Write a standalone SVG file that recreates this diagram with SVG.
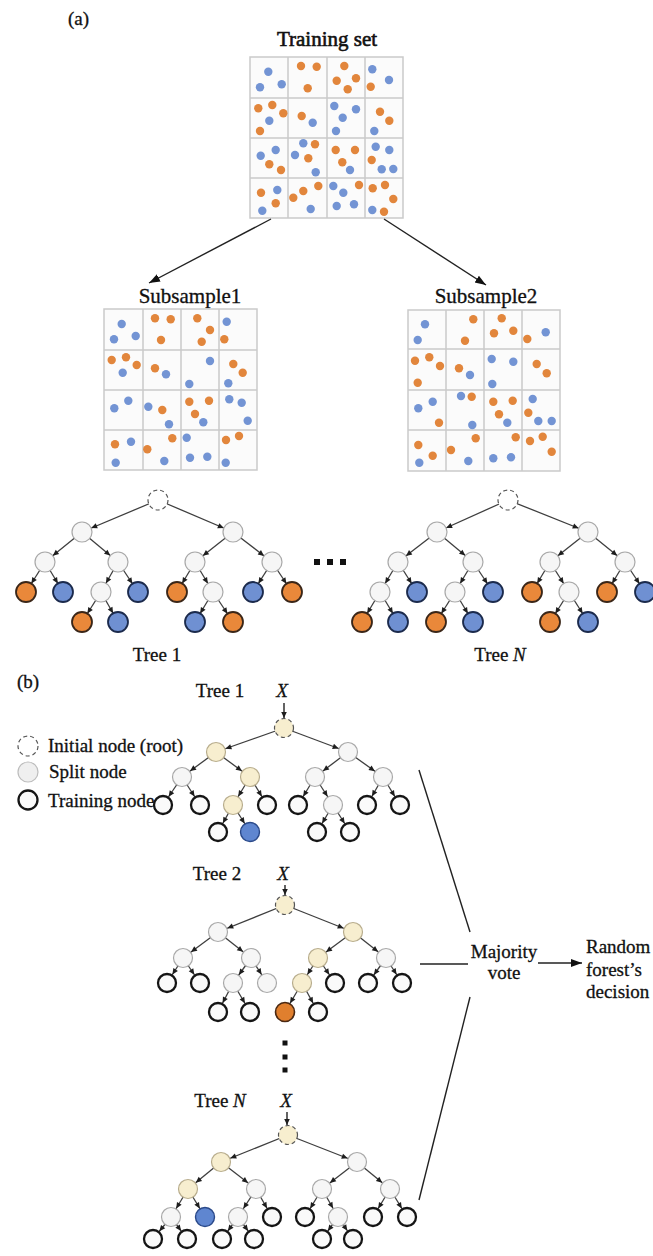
<svg xmlns="http://www.w3.org/2000/svg" width="653" height="1256" viewBox="0 0 653 1256">
<defs>
<style>
.t{font-family:"Liberation Serif","Times New Roman",serif;fill:#111;stroke:#111;stroke-width:0.3}
.bg{fill:#fbfbfb}
.gl{stroke:#cacaca;stroke-width:1.5;fill:none}
.b{fill:#7394d4}
.o{fill:#e2863c}
.e{stroke:#3e3e3e;stroke-width:1.3;fill:none;marker-end:url(#ah)}
.sp{fill:#f6f6f6;stroke:#a9a9a9;stroke-width:1.2}
.lo{fill:#e9883a;stroke:#3a2618;stroke-width:1.8}
.lb{fill:#6f90d2;stroke:#1b2a4c;stroke-width:1.8}
.rt{fill:#fff;stroke:#555;stroke-width:1.2;stroke-dasharray:4 3}
.ry{fill:#f7eecf;stroke:#555;stroke-width:1.2;stroke-dasharray:4 3}
.tr{fill:#fafafa;stroke:#151515;stroke-width:2.3}
.yl{fill:#f7eecf;stroke:#b8ad8d;stroke-width:1.2}
.bo{fill:#e07f2e;stroke:#4a2812;stroke-width:1.6}
.bb{fill:#5f86d0;stroke:#2b4a8a;stroke-width:1.4}
.ln{stroke:#222;stroke-width:1.4;fill:none}
</style>
<marker id="ah" viewBox="0 0 20 10" refX="16.5" refY="5" markerWidth="20" markerHeight="10" markerUnits="userSpaceOnUse" orient="auto">
<path d="M0.5,2.3 L6.5,5 L0.5,7.7 z" fill="#1e1e1e"/>
</marker>
<marker id="as" viewBox="0 0 8 8" refX="7" refY="4" markerWidth="8" markerHeight="8" markerUnits="userSpaceOnUse" orient="auto">
<path d="M1,1.2 L7,4 L1,6.8 z" fill="#1e1e1e"/>
</marker>
<marker id="ab" viewBox="0 0 12 10" refX="11" refY="5" markerWidth="12" markerHeight="10" markerUnits="userSpaceOnUse" orient="auto">
<path d="M0,1 L11,5 L0,9 z" fill="#111"/>
</marker>
</defs>
<rect width="653" height="1256" fill="#fff"/>

<!-- (a) bootstrap sampling -->
<text class="t" x="68" y="25" font-size="19">(a)</text>
<text class="t" x="327" y="46" font-size="21" text-anchor="middle" style="stroke-width:0.6">Training set</text>

<g id="training-set">
<rect class="bg" x="250" y="57" width="153" height="161"/>
<path class="gl" d="M250,57H403V218H250Z M288,57V218 M327,57V218 M365,57V218 M250,98H403 M250,138H403 M250,178H403"/>
<g class="b">
<circle cx="268.3" cy="71.7" r="4.2"/><circle cx="260" cy="87.3" r="4.2"/><circle cx="281.7" cy="84.3" r="4.2"/>
<circle cx="372.3" cy="69.3" r="4.2"/><circle cx="389" cy="80" r="4.2"/>
<circle cx="269.3" cy="120.7" r="4.2"/><circle cx="312.7" cy="122.7" r="4.2"/>
<circle cx="334.3" cy="106" r="4.2"/><circle cx="356" cy="109.3" r="4.2"/><circle cx="342.7" cy="117.7" r="4.2"/><circle cx="336" cy="131" r="4.2"/>
<circle cx="374.3" cy="131" r="4.2"/>
<circle cx="260.7" cy="155.7" r="4.2"/><circle cx="275.7" cy="150" r="4.2"/>
<circle cx="303.3" cy="143.3" r="4.2"/><circle cx="295" cy="155" r="4.2"/><circle cx="315.7" cy="172.3" r="4.2"/>
<circle cx="350" cy="170" r="4.2"/>
<circle cx="375.7" cy="146.7" r="4.2"/><circle cx="389.3" cy="150" r="4.2"/><circle cx="381.7" cy="169.3" r="4.2"/><circle cx="393.3" cy="169" r="4.2"/>
<circle cx="277.3" cy="190" r="4.2"/><circle cx="262.3" cy="210.7" r="4.2"/>
<circle cx="310.7" cy="209" r="4.2"/>
<circle cx="333.3" cy="186" r="4.2"/><circle cx="343.3" cy="192.7" r="4.2"/><circle cx="336.7" cy="206" r="4.2"/><circle cx="354" cy="204.3" r="4.2"/>
<circle cx="372.3" cy="210" r="4.2"/>
</g>
<g class="o">
<circle cx="301" cy="66" r="4.2"/><circle cx="316.7" cy="66.7" r="4.2"/><circle cx="307.7" cy="88.3" r="4.2"/>
<circle cx="344.3" cy="66" r="4.2"/><circle cx="336.7" cy="80.7" r="4.2"/><circle cx="356" cy="78.3" r="4.2"/><circle cx="347.7" cy="89.3" r="4.2"/>
<circle cx="370.7" cy="86.7" r="4.2"/>
<circle cx="258.3" cy="108.3" r="4.2"/><circle cx="272.3" cy="105" r="4.2"/><circle cx="283.3" cy="113.3" r="4.2"/><circle cx="260" cy="131" r="4.2"/>
<circle cx="301.7" cy="116" r="4.2"/>
<circle cx="380" cy="111.7" r="4.2"/><circle cx="389.3" cy="120.7" r="4.2"/>
<circle cx="269.3" cy="164.3" r="4.2"/><circle cx="281" cy="170" r="4.2"/>
<circle cx="315" cy="144.3" r="4.2"/><circle cx="308.3" cy="158.3" r="4.2"/>
<circle cx="335.7" cy="150" r="4.2"/><circle cx="355" cy="150" r="4.2"/><circle cx="342.3" cy="162.3" r="4.2"/>
<circle cx="371.7" cy="160" r="4.2"/>
<circle cx="261" cy="192.7" r="4.2"/><circle cx="275.7" cy="203.3" r="4.2"/>
<circle cx="293.3" cy="197.7" r="4.2"/><circle cx="303.3" cy="191" r="4.2"/><circle cx="318.3" cy="186" r="4.2"/>
<circle cx="359" cy="185" r="4.2"/>
<circle cx="372.7" cy="188.3" r="4.2"/><circle cx="385" cy="185" r="4.2"/><circle cx="393.3" cy="199" r="4.2"/><circle cx="384" cy="211.7" r="4.2"/>
</g>
</g>

<g id="sampling-arrows">
<line class="ln" x1="271" y1="219" x2="149" y2="283" marker-end="url(#ab)"/>
<line class="ln" x1="384" y1="219" x2="486" y2="285" marker-end="url(#ab)"/>
</g>

<text class="t" x="190" y="303" font-size="21" text-anchor="middle">Subsample1</text>
<g id="subsample1">
<rect class="bg" x="104" y="309" width="153" height="161"/>
<path class="gl" d="M104,309H257V470H104Z M143,309V470 M181,309V470 M219,309V470 M104,350H257 M104,390H257 M104,430H257"/>
<g class="b">
<circle cx="121.7" cy="324" r="4.2"/><circle cx="114" cy="339.3" r="4.2"/><circle cx="135.7" cy="336" r="4.2"/>
<circle cx="226.7" cy="321.7" r="4.2"/>
<circle cx="122.7" cy="372.7" r="4.2"/><circle cx="166" cy="374.3" r="4.2"/>
<circle cx="210" cy="361" r="4.2"/><circle cx="189.3" cy="384" r="4.2"/>
<circle cx="228.3" cy="383.3" r="4.2"/>
<circle cx="114.3" cy="408.3" r="4.2"/><circle cx="128.3" cy="400.7" r="4.2"/>
<circle cx="148.3" cy="406.7" r="4.2"/><circle cx="169" cy="424.3" r="4.2"/>
<circle cx="203.3" cy="422.3" r="4.2"/>
<circle cx="229.3" cy="399.3" r="4.2"/><circle cx="241.7" cy="402.7" r="4.2"/><circle cx="247.7" cy="420.7" r="4.2"/>
<circle cx="131" cy="441.7" r="4.2"/><circle cx="115.7" cy="462.7" r="4.2"/>
<circle cx="164.3" cy="461" r="4.2"/>
<circle cx="186.7" cy="437.7" r="4.2"/><circle cx="190" cy="457.7" r="4.2"/><circle cx="207.3" cy="456.7" r="4.2"/>
<circle cx="225.7" cy="462.7" r="4.2"/>
</g>
<g class="o">
<circle cx="155" cy="318.3" r="4.2"/><circle cx="170.7" cy="319.3" r="4.2"/><circle cx="161" cy="340" r="4.2"/>
<circle cx="197.3" cy="318.3" r="4.2"/><circle cx="210" cy="330" r="4.2"/><circle cx="201.7" cy="341.7" r="4.2"/>
<circle cx="224.3" cy="339.3" r="4.2"/>
<circle cx="111.7" cy="360" r="4.2"/><circle cx="126" cy="357.3" r="4.2"/><circle cx="136.7" cy="365" r="4.2"/>
<circle cx="155" cy="368.3" r="4.2"/>
<circle cx="233.3" cy="364" r="4.2"/><circle cx="242.7" cy="372.7" r="4.2"/>
<circle cx="162.3" cy="410" r="4.2"/>
<circle cx="189.3" cy="401.7" r="4.2"/><circle cx="209" cy="400.7" r="4.2"/><circle cx="195" cy="414" r="4.2"/>
<circle cx="115" cy="444.3" r="4.2"/>
<circle cx="172.3" cy="438.3" r="4.2"/><circle cx="147.3" cy="449.3" r="4.2"/>
<circle cx="226" cy="440" r="4.2"/><circle cx="239" cy="436" r="4.2"/>
</g>
</g>

<text class="t" x="486" y="303" font-size="21" text-anchor="middle">Subsample2</text>
<g id="subsample2">
<rect class="bg" x="408" y="310" width="152" height="161"/>
<path class="gl" d="M408,310H560V471H408Z M446,310V471 M484,310V471 M522,310V471 M408,349H560 M408,390H560 M408,430H560"/>
<g class="b">
<circle cx="425" cy="324.3" r="4.2"/><circle cx="417.7" cy="340" r="4.2"/>
<circle cx="545.7" cy="332.3" r="4.2"/>
<circle cx="470" cy="375" r="4.2"/>
<circle cx="491.7" cy="359" r="4.2"/><circle cx="513.3" cy="361.7" r="4.2"/><circle cx="492.3" cy="384" r="4.2"/>
<circle cx="418.3" cy="408.3" r="4.2"/><circle cx="432.7" cy="401.7" r="4.2"/>
<circle cx="461" cy="396" r="4.2"/><circle cx="472.3" cy="425" r="4.2"/>
<circle cx="507.3" cy="422.7" r="4.2"/>
<circle cx="532.7" cy="399" r="4.2"/><circle cx="538.3" cy="421" r="4.2"/><circle cx="551.7" cy="421" r="4.2"/>
<circle cx="419.3" cy="462.7" r="4.2"/>
<circle cx="468.3" cy="461" r="4.2"/>
<circle cx="493.3" cy="458.3" r="4.2"/><circle cx="511" cy="457.3" r="4.2"/>
</g>
<g class="o">
<circle cx="473.3" cy="319.3" r="4.2"/><circle cx="465" cy="340.7" r="4.2"/>
<circle cx="501.7" cy="318.3" r="4.2"/><circle cx="494" cy="333.3" r="4.2"/><circle cx="513.3" cy="330.7" r="4.2"/>
<circle cx="527.3" cy="339" r="4.2"/>
<circle cx="415" cy="360.7" r="4.2"/><circle cx="429.3" cy="357.3" r="4.2"/><circle cx="440" cy="366" r="4.2"/><circle cx="417.7" cy="382.7" r="4.2"/>
<circle cx="459" cy="368.3" r="4.2"/>
<circle cx="536.7" cy="364" r="4.2"/><circle cx="546.7" cy="373.3" r="4.2"/>
<circle cx="439" cy="422.7" r="4.2"/>
<circle cx="471.7" cy="396.7" r="4.2"/>
<circle cx="493.3" cy="401.7" r="4.2"/><circle cx="512.7" cy="400.7" r="4.2"/><circle cx="499" cy="414.3" r="4.2"/>
<circle cx="528.3" cy="412.7" r="4.2"/>
<circle cx="418.3" cy="445" r="4.2"/><circle cx="432.7" cy="455.7" r="4.2"/>
<circle cx="475.7" cy="438.3" r="4.2"/><circle cx="451" cy="450" r="4.2"/>
<circle cx="515.7" cy="437.3" r="4.2"/>
<circle cx="530" cy="441" r="4.2"/><circle cx="542.7" cy="436.7" r="4.2"/><circle cx="551.7" cy="451.7" r="4.2"/>
</g>
</g>

<!-- (a) Tree 1 -->
<g id="a-tree1-edges">
<line class="e" x1="158" y1="500" x2="82" y2="532"/><line class="e" x1="158" y1="500" x2="233" y2="532"/>
<line class="e" x1="82" y1="532" x2="45" y2="562"/><line class="e" x1="82" y1="532" x2="118" y2="562"/>
<line class="e" x1="45" y1="562" x2="26" y2="592"/><line class="e" x1="45" y1="562" x2="63" y2="592"/>
<line class="e" x1="118" y1="562" x2="101" y2="592"/><line class="e" x1="118" y1="562" x2="138" y2="592"/>
<line class="e" x1="101" y1="592" x2="82" y2="622"/><line class="e" x1="101" y1="592" x2="118" y2="622"/>
<line class="e" x1="233" y1="532" x2="195" y2="562"/><line class="e" x1="233" y1="532" x2="272" y2="562"/>
<line class="e" x1="195" y1="562" x2="177" y2="592"/><line class="e" x1="195" y1="562" x2="213" y2="592"/>
<line class="e" x1="213" y1="592" x2="195" y2="622"/><line class="e" x1="213" y1="592" x2="233" y2="622"/>
<line class="e" x1="272" y1="562" x2="253" y2="592"/><line class="e" x1="272" y1="562" x2="292" y2="592"/>
</g>
<g id="a-tree1">
<circle id="a1-root" class="rt" cx="158" cy="500" r="10"/>
<circle id="a1-s1" class="sp" cx="82" cy="532" r="10"/><circle id="a1-s2" class="sp" cx="233" cy="532" r="10"/>
<circle id="a1-s3" class="sp" cx="45" cy="562" r="10"/><circle id="a1-s4" class="sp" cx="118" cy="562" r="10"/>
<circle id="a1-s5" class="sp" cx="195" cy="562" r="10"/><circle id="a1-s6" class="sp" cx="272" cy="562" r="10"/>
<circle id="a1-l1" class="lo" cx="26" cy="592" r="10"/><circle id="a1-l2" class="lb" cx="63" cy="592" r="10"/>
<circle id="a1-s7" class="sp" cx="101" cy="592" r="10"/><circle id="a1-l3" class="lb" cx="138" cy="592" r="10"/>
<circle id="a1-l4" class="lo" cx="177" cy="592" r="10"/><circle id="a1-s8" class="sp" cx="213" cy="592" r="10"/>
<circle id="a1-l5" class="lb" cx="253" cy="592" r="10"/><circle id="a1-l6" class="lo" cx="292" cy="592" r="10"/>
<circle id="a1-l7" class="lo" cx="82" cy="622" r="10"/><circle id="a1-l8" class="lb" cx="118" cy="622" r="10"/>
<circle id="a1-l9" class="lb" cx="195" cy="622" r="10"/><circle id="a1-l10" class="lo" cx="233" cy="622" r="10"/>
</g>
<text class="t" x="157" y="661" font-size="19" text-anchor="middle">Tree 1</text>

<g id="a-ellipsis" fill="#111">
<rect x="314" y="559" width="6" height="6"/><rect x="327" y="559" width="6" height="6"/><rect x="340" y="559" width="6" height="6"/>
</g>

<!-- (a) Tree N -->
<g id="a-treeN-edges">
<line class="e" x1="508" y1="500" x2="437" y2="532"/><line class="e" x1="508" y1="500" x2="588" y2="532"/>
<line class="e" x1="437" y1="532" x2="398" y2="562"/><line class="e" x1="437" y1="532" x2="473" y2="562"/>
<line class="e" x1="398" y1="562" x2="380" y2="592"/><line class="e" x1="398" y1="562" x2="417" y2="592"/>
<line class="e" x1="380" y1="592" x2="362" y2="622"/><line class="e" x1="380" y1="592" x2="398" y2="622"/>
<line class="e" x1="473" y1="562" x2="455" y2="592"/><line class="e" x1="473" y1="562" x2="493" y2="592"/>
<line class="e" x1="455" y1="592" x2="436" y2="622"/><line class="e" x1="455" y1="592" x2="473" y2="622"/>
<line class="e" x1="588" y1="532" x2="550" y2="562"/><line class="e" x1="588" y1="532" x2="625" y2="562"/>
<line class="e" x1="550" y1="562" x2="532" y2="592"/><line class="e" x1="550" y1="562" x2="569" y2="592"/>
<line class="e" x1="569" y1="592" x2="550" y2="622"/><line class="e" x1="569" y1="592" x2="588" y2="622"/>
<line class="e" x1="625" y1="562" x2="607" y2="592"/><line class="e" x1="625" y1="562" x2="645" y2="592"/>
</g>
<g id="a-treeN">
<circle id="aN-root" class="rt" cx="508" cy="500" r="10"/>
<circle id="aN-s1" class="sp" cx="437" cy="532" r="10"/><circle id="aN-s2" class="sp" cx="588" cy="532" r="10"/>
<circle id="aN-s3" class="sp" cx="398" cy="562" r="10"/><circle id="aN-s4" class="sp" cx="473" cy="562" r="10"/>
<circle id="aN-s5" class="sp" cx="550" cy="562" r="10"/><circle id="aN-s6" class="sp" cx="625" cy="562" r="10"/>
<circle id="aN-s7" class="sp" cx="380" cy="592" r="10"/><circle id="aN-l1" class="lb" cx="417" cy="592" r="10"/>
<circle id="aN-s8" class="sp" cx="455" cy="592" r="10"/><circle id="aN-l2" class="lb" cx="493" cy="592" r="10"/>
<circle id="aN-l3" class="lo" cx="532" cy="592" r="10"/><circle id="aN-s9" class="sp" cx="569" cy="592" r="10"/>
<circle id="aN-l4" class="lo" cx="607" cy="592" r="10"/><circle id="aN-l5" class="lb" cx="645" cy="592" r="10"/>
<circle id="aN-l6" class="lo" cx="362" cy="622" r="10"/><circle id="aN-l7" class="lb" cx="398" cy="622" r="10"/>
<circle id="aN-l8" class="lo" cx="436" cy="622" r="10"/><circle id="aN-l9" class="lb" cx="473" cy="622" r="10"/>
<circle id="aN-l10" class="lo" cx="550" cy="622" r="10"/><circle id="aN-l11" class="lb" cx="588" cy="622" r="10"/>
</g>
<text class="t" x="500" y="661" font-size="19" text-anchor="middle">Tree <tspan font-style="italic">N</tspan></text>

<!-- (b) prediction -->
<text class="t" x="17" y="688" font-size="19">(b)</text>

<g id="legend">
<g id="legend-root"><circle class="rt" cx="28" cy="746" r="10"/><text class="t" x="48" y="752" font-size="19">Initial node (root)</text></g>
<g id="legend-split"><circle class="sp" cx="28" cy="772" r="10" style="fill:#efefef;stroke:#bdbdbd"/><text class="t" x="49" y="778" font-size="19">Split node</text></g>
<g id="legend-train"><circle class="tr" cx="28" cy="800" r="9.5"/><text class="t" x="48" y="807" font-size="19">Training node</text></g>
</g>

<!-- (b) Tree 1 -->
<text class="t" x="220" y="697" font-size="19" text-anchor="middle">Tree 1</text>
<text class="t" x="282" y="697" font-size="19" font-style="italic" text-anchor="middle">X</text>
<g id="b-tree1-edges">
<line class="ln" x1="284" y1="703" x2="284" y2="718" stroke-width="1.2" marker-end="url(#as)"/>
<line class="e" x1="284" y1="728" x2="216" y2="752"/><line class="e" x1="284" y1="728" x2="348" y2="752"/>
<line class="e" x1="216" y1="752" x2="182" y2="777"/><line class="e" x1="216" y1="752" x2="250" y2="777"/>
<line class="e" x1="182" y1="777" x2="163" y2="805"/><line class="e" x1="182" y1="777" x2="200" y2="805"/>
<line class="e" x1="250" y1="777" x2="233" y2="805"/><line class="e" x1="250" y1="777" x2="267" y2="805"/>
<line class="e" x1="233" y1="805" x2="218" y2="832"/><line class="e" x1="233" y1="805" x2="250" y2="832"/>
<line class="e" x1="348" y1="752" x2="315" y2="777"/><line class="e" x1="348" y1="752" x2="383" y2="777"/>
<line class="e" x1="315" y1="777" x2="298" y2="805"/><line class="e" x1="315" y1="777" x2="333" y2="805"/>
<line class="e" x1="333" y1="805" x2="317" y2="832"/><line class="e" x1="333" y1="805" x2="350" y2="832"/>
<line class="e" x1="383" y1="777" x2="367" y2="805"/><line class="e" x1="383" y1="777" x2="400" y2="805"/>
</g>
<g id="b-tree1">
<circle id="b1-root" class="ry" cx="284" cy="728" r="9.5"/>
<circle id="b1-n1" class="yl" cx="216" cy="752" r="9.5"/><circle id="b1-n2" class="sp" cx="348" cy="752" r="9.5"/>
<circle id="b1-n3" class="sp" cx="182" cy="777" r="9.5"/><circle id="b1-n4" class="yl" cx="250" cy="777" r="9.5"/>
<circle id="b1-n5" class="sp" cx="315" cy="777" r="9.5"/><circle id="b1-n6" class="sp" cx="383" cy="777" r="9.5"/>
<circle id="b1-n7" class="tr" cx="163" cy="805" r="9"/><circle id="b1-n8" class="tr" cx="200" cy="805" r="9"/>
<circle id="b1-n9" class="yl" cx="233" cy="805" r="9.5"/><circle id="b1-n10" class="tr" cx="267" cy="805" r="9"/>
<circle id="b1-n11" class="tr" cx="298" cy="805" r="9"/><circle id="b1-n12" class="sp" cx="333" cy="805" r="9.5"/>
<circle id="b1-n13" class="tr" cx="367" cy="805" r="9"/><circle id="b1-n14" class="tr" cx="400" cy="805" r="9"/>
<circle id="b1-n15" class="tr" cx="218" cy="832" r="9"/><circle id="b1-n16" class="bb" cx="250" cy="832" r="9.5"/>
<circle id="b1-n17" class="tr" cx="317" cy="832" r="9"/><circle id="b1-n18" class="tr" cx="350" cy="832" r="9"/>
</g>

<!-- (b) Tree 2 -->
<text class="t" x="217" y="880" font-size="19" text-anchor="middle">Tree 2</text>
<text class="t" x="283" y="880" font-size="19" font-style="italic" text-anchor="middle">X</text>
<g id="b-tree2-edges">
<line class="ln" x1="285" y1="885" x2="285" y2="895" stroke-width="1.2" marker-end="url(#as)"/>
<line class="e" x1="285" y1="905" x2="218" y2="932"/><line class="e" x1="285" y1="905" x2="353" y2="932"/>
<line class="e" x1="218" y1="932" x2="183" y2="958"/><line class="e" x1="218" y1="932" x2="251" y2="958"/>
<line class="e" x1="183" y1="958" x2="167" y2="983"/><line class="e" x1="183" y1="958" x2="200" y2="983"/>
<line class="e" x1="251" y1="958" x2="233" y2="983"/><line class="e" x1="251" y1="958" x2="267" y2="983"/>
<line class="e" x1="233" y1="983" x2="218" y2="1012"/><line class="e" x1="233" y1="983" x2="250" y2="1012"/>
<line class="e" x1="353" y1="932" x2="318" y2="958"/><line class="e" x1="353" y1="932" x2="386" y2="958"/>
<line class="e" x1="318" y1="958" x2="302" y2="983"/><line class="e" x1="318" y1="958" x2="335" y2="983"/>
<line class="e" x1="302" y1="983" x2="285" y2="1012"/><line class="e" x1="302" y1="983" x2="318" y2="1012"/>
<line class="e" x1="386" y1="958" x2="368" y2="983"/><line class="e" x1="386" y1="958" x2="402" y2="983"/>
</g>
<g id="b-tree2">
<circle id="b2-root" class="ry" cx="285" cy="905" r="9.5"/>
<circle id="b2-n1" class="sp" cx="218" cy="932" r="9.5"/><circle id="b2-n2" class="yl" cx="353" cy="932" r="9.5"/>
<circle id="b2-n3" class="sp" cx="183" cy="958" r="9.5"/><circle id="b2-n4" class="sp" cx="251" cy="958" r="9.5"/>
<circle id="b2-n5" class="yl" cx="318" cy="958" r="9.5"/><circle id="b2-n6" class="sp" cx="386" cy="958" r="9.5"/>
<circle id="b2-n7" class="tr" cx="167" cy="983" r="9"/><circle id="b2-n8" class="tr" cx="200" cy="983" r="9"/>
<circle id="b2-n9" class="sp" cx="233" cy="983" r="9.5"/><circle id="b2-n10" class="sp" cx="267" cy="983" r="9.5"/>
<circle id="b2-n11" class="yl" cx="302" cy="983" r="9.5"/><circle id="b2-n12" class="tr" cx="335" cy="983" r="9"/>
<circle id="b2-n13" class="tr" cx="368" cy="983" r="9"/><circle id="b2-n14" class="tr" cx="402" cy="983" r="9"/>
<circle id="b2-n15" class="tr" cx="218" cy="1012" r="9"/><circle id="b2-n16" class="tr" cx="250" cy="1012" r="9"/>
<circle id="b2-n17" class="bo" cx="285" cy="1012" r="9.5"/><circle id="b2-n18" class="tr" cx="318" cy="1012" r="9"/>
</g>

<g id="b-vdots" fill="#111">
<rect x="282.5" y="1040.5" width="5" height="5"/><rect x="282.5" y="1054.5" width="5" height="5"/><rect x="282.5" y="1067.5" width="5" height="5"/>
</g>

<!-- (b) Tree N -->
<text class="t" x="220" y="1107" font-size="19" text-anchor="middle">Tree <tspan font-style="italic">N</tspan></text>
<text class="t" x="286" y="1107" font-size="19" font-style="italic" text-anchor="middle">X</text>
<g id="b-treeN-edges">
<line class="ln" x1="287" y1="1112" x2="287" y2="1125" stroke-width="1.2" marker-end="url(#as)"/>
<line class="e" x1="288" y1="1135" x2="221" y2="1162"/><line class="e" x1="288" y1="1135" x2="357" y2="1162"/>
<line class="e" x1="221" y1="1162" x2="188" y2="1189"/><line class="e" x1="221" y1="1162" x2="256" y2="1189"/>
<line class="e" x1="188" y1="1189" x2="171" y2="1217"/><line class="e" x1="188" y1="1189" x2="205" y2="1217"/>
<line class="e" x1="171" y1="1217" x2="153" y2="1239"/><line class="e" x1="171" y1="1217" x2="187" y2="1239"/>
<line class="e" x1="256" y1="1189" x2="238" y2="1217"/><line class="e" x1="256" y1="1189" x2="272" y2="1217"/>
<line class="e" x1="238" y1="1217" x2="222" y2="1239"/><line class="e" x1="238" y1="1217" x2="254" y2="1239"/>
<line class="e" x1="357" y1="1162" x2="322" y2="1189"/><line class="e" x1="357" y1="1162" x2="390" y2="1189"/>
<line class="e" x1="322" y1="1189" x2="305" y2="1217"/><line class="e" x1="322" y1="1189" x2="338" y2="1217"/>
<line class="e" x1="338" y1="1217" x2="322" y2="1239"/><line class="e" x1="338" y1="1217" x2="353" y2="1239"/>
<line class="e" x1="390" y1="1189" x2="373" y2="1217"/><line class="e" x1="390" y1="1189" x2="407" y2="1217"/>
</g>
<g id="b-treeN">
<circle id="bN-root" class="ry" cx="288" cy="1135" r="9.5"/>
<circle id="bN-n1" class="yl" cx="221" cy="1162" r="9.5"/><circle id="bN-n2" class="sp" cx="357" cy="1162" r="9.5"/>
<circle id="bN-n3" class="yl" cx="188" cy="1189" r="9.5"/><circle id="bN-n4" class="sp" cx="256" cy="1189" r="9.5"/>
<circle id="bN-n5" class="sp" cx="322" cy="1189" r="9.5"/><circle id="bN-n6" class="sp" cx="390" cy="1189" r="9.5"/>
<circle id="bN-n7" class="sp" cx="171" cy="1217" r="9.5"/><circle id="bN-n8" class="bb" cx="205" cy="1217" r="9.5"/>
<circle id="bN-n9" class="sp" cx="238" cy="1217" r="9.5"/><circle id="bN-n10" class="tr" cx="272" cy="1217" r="9"/>
<circle id="bN-n11" class="tr" cx="305" cy="1217" r="9"/><circle id="bN-n12" class="sp" cx="338" cy="1217" r="9.5"/>
<circle id="bN-n13" class="tr" cx="373" cy="1217" r="9"/><circle id="bN-n14" class="tr" cx="407" cy="1217" r="9"/>
<circle id="bN-n15" class="tr" cx="153" cy="1239" r="9"/><circle id="bN-n16" class="tr" cx="187" cy="1239" r="9"/>
<circle id="bN-n17" class="tr" cx="222" cy="1239" r="9"/><circle id="bN-n18" class="tr" cx="254" cy="1239" r="9"/>
<circle id="bN-n19" class="tr" cx="322" cy="1239" r="9"/><circle id="bN-n20" class="tr" cx="353" cy="1239" r="9"/>
</g>

<!-- aggregation -->
<g id="vote-connectors">
<line class="ln" x1="419" y1="770" x2="470" y2="932"/>
<line class="ln" x1="420" y1="964" x2="468" y2="964"/>
<line class="ln" x1="470" y1="997" x2="419" y2="1200"/>
<line class="ln" x1="538" y1="963" x2="582" y2="963" marker-end="url(#ab)"/>
</g>
<g id="majority-vote">
<text class="t" x="504" y="958" font-size="19" text-anchor="middle">Majority</text>
<text class="t" x="504" y="979" font-size="19" text-anchor="middle">vote</text>
</g>
<g id="decision">
<text class="t" x="586" y="953" font-size="19">Random</text>
<text class="t" x="586" y="976" font-size="19">forest’s</text>
<text class="t" x="586" y="998" font-size="19">decision</text>
</g>
</svg>
